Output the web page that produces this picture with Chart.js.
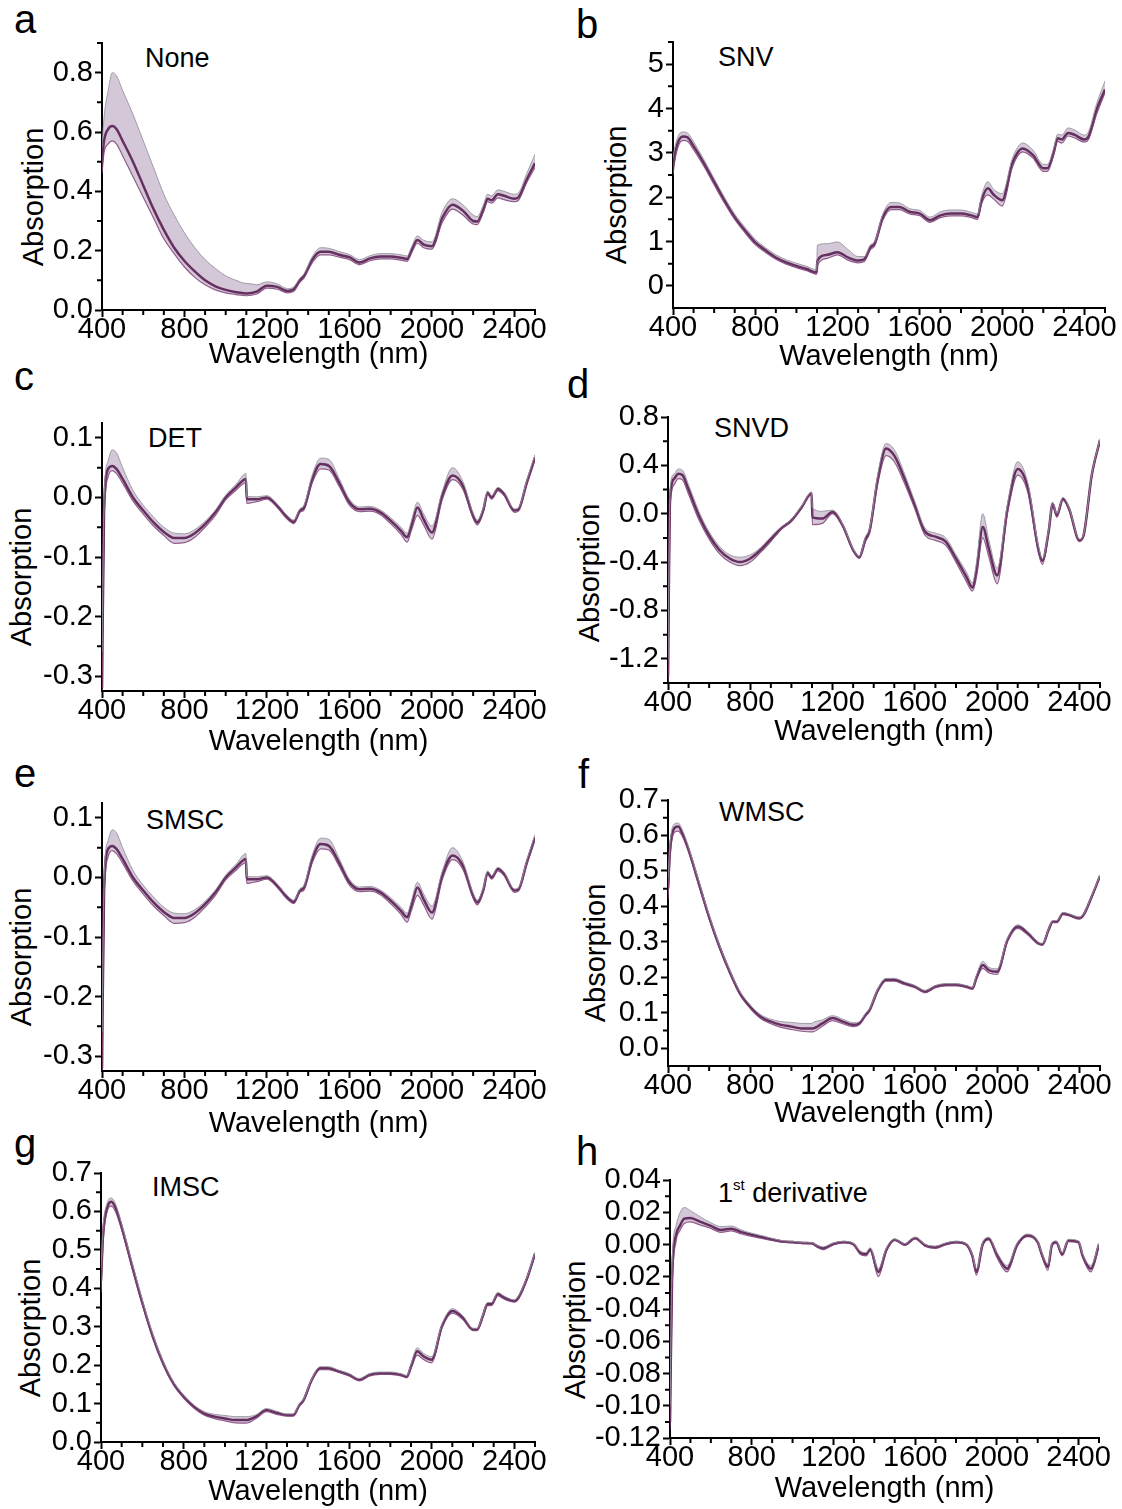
<!DOCTYPE html>
<html>
<head>
<meta charset="utf-8">
<script src="https://cdn.jsdelivr.net/npm/chart.js@4.4.0/dist/chart.umd.min.js"></script>
<style>
  body { margin: 0; background: #fff; width: 1122px; height: 1509px; position: relative; overflow: hidden;
         font-family: 'Liberation Sans', Arial, sans-serif; color: #000; }
  canvas { position: absolute; }
  .letter { position: absolute; font-size: 40px; line-height: 1; }
  .name { position: absolute; font-size: 27px; line-height: 1; white-space: nowrap; }
  .name sup { font-size: 15px; vertical-align: 0; position: relative; top: -12px; }
  .ytitle { position: absolute; font-size: 29px; line-height: 1; white-space: nowrap;
            transform: translate(-50%, -50%) rotate(-90deg); }
</style>
</head>
<body>
<div class="letter" style="left:14px;top:-1px">a</div>
<div class="letter" style="left:576px;top:4px">b</div>
<div class="letter" style="left:14px;top:356px">c</div>
<div class="letter" style="left:567px;top:364px">d</div>
<div class="letter" style="left:14px;top:753px">e</div>
<div class="letter" style="left:578px;top:754px">f</div>
<div class="letter" style="left:14px;top:1123px">g</div>
<div class="letter" style="left:576px;top:1131px">h</div>

<div class="name" style="left:145px;top:45px">None</div>
<div class="name" style="left:718px;top:44px">SNV</div>
<div class="name" style="left:148px;top:425px">DET</div>
<div class="name" style="left:714px;top:415px">SNVD</div>
<div class="name" style="left:146px;top:807px">SMSC</div>
<div class="name" style="left:719px;top:799px">WMSC</div>
<div class="name" style="left:152px;top:1174px">IMSC</div>
<div class="name" style="left:718px;top:1180px">1<sup>st</sup> derivative</div>

<div class="ytitle" style="left:33px;top:197px">Absorption</div>
<div class="ytitle" style="left:616px;top:195px">Absorption</div>
<div class="ytitle" style="left:21px;top:577px">Absorption</div>
<div class="ytitle" style="left:589px;top:573px">Absorption</div>
<div class="ytitle" style="left:21px;top:957px">Absorption</div>
<div class="ytitle" style="left:595px;top:953px">Absorption</div>
<div class="ytitle" style="left:30px;top:1328px">Absorption</div>
<div class="ytitle" style="left:575px;top:1330px">Absorption</div>

<canvas id="cv-a"></canvas>
<canvas id="cv-b"></canvas>
<canvas id="cv-c"></canvas>
<canvas id="cv-d"></canvas>
<canvas id="cv-e"></canvas>
<canvas id="cv-f"></canvas>
<canvas id="cv-g"></canvas>
<canvas id="cv-h"></canvas>

<script>
// wavelength grid (nm) shared by all panels
const wavelengths = [400, 410, 430, 450, 470, 500, 550, 600, 650, 700, 750, 800, 850, 900, 950,
  1000, 1050, 1098, 1102, 1150, 1200, 1250, 1300, 1330, 1360, 1380, 1420, 1460, 1500, 1550,
  1600, 1650, 1700, 1750, 1800, 1850, 1880, 1900, 1930, 1960, 2000, 2050, 2100, 2150, 2200,
  2220, 2250, 2270, 2290, 2320, 2350, 2400, 2420, 2460, 2500];

const xTickLabels = [400, 800, 1200, 1600, 2000, 2400];
const xMinorTicks = [500, 600, 700, 900, 1000, 1100, 1300, 1400, 1500, 1700, 1800, 1900, 2100, 2200, 2300, 2500];

// a - None
const noneHi = [0.55,0.65,0.74,0.80,0.79,0.74,0.66,0.57,0.48,0.39,0.32,0.26,0.21,0.17,0.14,0.115,0.10,0.09,0.09,0.085,0.095,0.088,0.072,0.078,0.108,0.122,0.18,0.21,0.208,0.197,0.187,0.17,0.183,0.19,0.19,0.186,0.182,0.21,0.25,0.235,0.23,0.33,0.375,0.355,0.32,0.315,0.355,0.39,0.385,0.405,0.40,0.39,0.395,0.46,0.525];
const noneMid = [0.50,0.57,0.61,0.62,0.61,0.57,0.50,0.42,0.34,0.27,0.21,0.165,0.13,0.10,0.08,0.068,0.06,0.056,0.056,0.062,0.082,0.078,0.064,0.07,0.10,0.115,0.17,0.196,0.196,0.186,0.178,0.16,0.174,0.18,0.18,0.176,0.172,0.2,0.236,0.22,0.215,0.31,0.355,0.335,0.30,0.298,0.34,0.375,0.37,0.39,0.385,0.375,0.38,0.44,0.495];
const noneLo = [0.46,0.53,0.56,0.57,0.56,0.52,0.45,0.38,0.31,0.24,0.19,0.145,0.11,0.085,0.068,0.058,0.052,0.048,0.048,0.054,0.074,0.07,0.058,0.063,0.094,0.108,0.16,0.186,0.186,0.178,0.17,0.153,0.166,0.172,0.172,0.168,0.164,0.19,0.225,0.21,0.205,0.295,0.34,0.32,0.29,0.288,0.33,0.365,0.36,0.378,0.372,0.365,0.37,0.43,0.48];
const noneTicks = [0, 0.2, 0.4, 0.6, 0.8];
const noneMinor = [0.1, 0.3, 0.5, 0.7, 0.9];

// b - SNV
const snvHi = [2.9,3.15,3.42,3.47,3.45,3.25,2.85,2.42,2.0,1.62,1.32,1.05,0.86,0.7,0.59,0.51,0.44,0.36,0.92,0.95,0.99,0.82,0.66,0.66,0.93,1.0,1.62,1.88,1.87,1.74,1.7,1.55,1.67,1.71,1.71,1.66,1.62,2.03,2.35,2.17,2.08,2.88,3.22,3.06,2.74,2.74,3.1,3.42,3.4,3.56,3.52,3.4,3.48,4.12,4.62];
const snvMid = [2.7,3.0,3.3,3.37,3.35,3.15,2.77,2.35,1.93,1.55,1.25,0.98,0.80,0.64,0.53,0.45,0.38,0.30,0.57,0.70,0.76,0.64,0.57,0.60,0.87,0.95,1.55,1.78,1.78,1.67,1.63,1.48,1.59,1.63,1.63,1.59,1.55,1.93,2.2,2.05,1.93,2.77,3.1,2.95,2.65,2.65,3.0,3.33,3.3,3.45,3.41,3.3,3.37,3.98,4.43];
const snvLo = [2.5,2.85,3.2,3.28,3.26,3.07,2.7,2.28,1.87,1.5,1.2,0.93,0.75,0.6,0.49,0.41,0.34,0.26,0.45,0.62,0.7,0.58,0.52,0.55,0.82,0.9,1.48,1.72,1.72,1.62,1.58,1.43,1.54,1.58,1.58,1.54,1.5,1.85,2.05,1.95,1.8,2.68,3.02,2.88,2.58,2.58,2.94,3.26,3.22,3.38,3.34,3.24,3.3,3.88,4.35];
const snvTicks = [0, 1, 2, 3, 4, 5];
const snvMinor = [0.5, 1.5, 2.5, 3.5, 4.5, 5.5];

// c - DET
const detHi = [-0.26,0.0,0.062,0.08,0.075,0.05,0.012,-0.013,-0.033,-0.05,-0.06,-0.061,-0.054,-0.04,-0.021,0.004,0.022,0.04,0.002,0.001,0.003,-0.011,-0.031,-0.038,-0.019,-0.013,0.038,0.066,0.064,0.032,-0.003,-0.016,-0.015,-0.021,-0.034,-0.05,-0.06,-0.04,-0.008,-0.028,-0.048,0.01,0.05,0.027,-0.026,-0.038,-0.016,0.011,0.003,0.017,0.009,-0.019,-0.017,0.029,0.072];
const detMid = [-0.32,-0.02,0.048,0.053,0.048,0.031,0.0,-0.022,-0.042,-0.058,-0.068,-0.068,-0.06,-0.045,-0.025,0.0,0.017,0.031,-0.003,-0.003,0.0,-0.014,-0.034,-0.041,-0.022,-0.017,0.031,0.056,0.053,0.025,-0.008,-0.02,-0.019,-0.025,-0.039,-0.056,-0.067,-0.048,-0.017,-0.037,-0.059,0.003,0.037,0.02,-0.031,-0.042,-0.02,0.008,0.0,0.014,0.006,-0.022,-0.02,0.025,0.067];
const detLo = [-0.33,-0.04,0.035,0.045,0.04,0.024,-0.006,-0.028,-0.048,-0.064,-0.077,-0.076,-0.067,-0.05,-0.03,-0.004,0.012,0.025,-0.01,-0.007,-0.003,-0.017,-0.037,-0.044,-0.025,-0.021,0.025,0.048,0.046,0.019,-0.013,-0.024,-0.023,-0.029,-0.044,-0.062,-0.075,-0.056,-0.03,-0.046,-0.07,-0.004,0.03,0.014,-0.035,-0.046,-0.024,0.005,-0.003,0.011,0.003,-0.025,-0.023,0.021,0.063];
const detTicks = [-0.3, -0.2, -0.1, 0, 0.1];
const detMinor = [-0.25, -0.15, -0.05, 0.05];

// d - SNVD
const snvdHi = [-1.2,0.2,0.33,0.37,0.36,0.24,0.02,-0.15,-0.27,-0.34,-0.36,-0.34,-0.28,-0.19,-0.11,-0.045,0.065,0.18,0.05,0.02,0.03,-0.09,-0.29,-0.35,-0.19,-0.12,0.33,0.58,0.53,0.33,0.1,-0.12,-0.16,-0.2,-0.34,-0.48,-0.57,-0.4,0.0,-0.22,-0.45,0.08,0.43,0.25,-0.26,-0.37,-0.13,0.095,0.0,0.135,0.05,-0.21,-0.17,0.33,0.62];
const snvdMid = [-1.35,0.12,0.29,0.33,0.32,0.2,-0.014,-0.18,-0.30,-0.37,-0.40,-0.37,-0.30,-0.21,-0.12,-0.055,0.055,0.17,-0.03,-0.04,0.014,-0.10,-0.30,-0.36,-0.21,-0.14,0.29,0.54,0.48,0.29,0.07,-0.15,-0.19,-0.23,-0.37,-0.52,-0.61,-0.46,-0.11,-0.29,-0.51,0.04,0.37,0.21,-0.29,-0.39,-0.15,0.083,-0.014,0.124,0.04,-0.22,-0.18,0.32,0.61];
const snvdLo = [-1.39,0.05,0.24,0.29,0.28,0.16,-0.05,-0.21,-0.33,-0.4,-0.43,-0.4,-0.32,-0.23,-0.13,-0.065,0.045,0.16,-0.09,-0.08,0.0,-0.11,-0.31,-0.37,-0.23,-0.16,0.25,0.48,0.43,0.25,0.04,-0.18,-0.22,-0.26,-0.4,-0.56,-0.64,-0.52,-0.2,-0.36,-0.58,0.0,0.32,0.17,-0.32,-0.42,-0.17,0.07,-0.03,0.11,0.03,-0.23,-0.19,0.31,0.6];
const snvdTicks = [-1.2, -0.8, -0.4, 0, 0.4, 0.8];
const snvdMinor = [-1.4, -1.0, -0.6, -0.2, 0.2, 0.6];

// e - SMSC
const smscHi = [-0.26,0.0,0.062,0.08,0.075,0.05,0.012,-0.013,-0.033,-0.05,-0.06,-0.061,-0.054,-0.04,-0.021,0.004,0.022,0.04,0.002,0.001,0.003,-0.011,-0.031,-0.038,-0.019,-0.013,0.038,0.066,0.064,0.032,-0.003,-0.016,-0.015,-0.021,-0.034,-0.05,-0.06,-0.04,-0.008,-0.028,-0.048,0.01,0.05,0.027,-0.026,-0.038,-0.016,0.011,0.003,0.017,0.009,-0.019,-0.017,0.029,0.072];
const smscMid = [-0.32,-0.02,0.048,0.053,0.048,0.031,0.0,-0.022,-0.042,-0.058,-0.068,-0.068,-0.06,-0.045,-0.025,0.0,0.017,0.031,-0.003,-0.003,0.0,-0.014,-0.034,-0.041,-0.022,-0.017,0.031,0.056,0.053,0.025,-0.008,-0.02,-0.019,-0.025,-0.039,-0.056,-0.067,-0.048,-0.017,-0.037,-0.059,0.003,0.037,0.02,-0.031,-0.042,-0.02,0.008,0.0,0.014,0.006,-0.022,-0.02,0.025,0.067];
const smscLo = [-0.33,-0.04,0.035,0.045,0.04,0.024,-0.006,-0.028,-0.048,-0.064,-0.077,-0.076,-0.067,-0.05,-0.03,-0.004,0.012,0.025,-0.01,-0.007,-0.003,-0.017,-0.037,-0.044,-0.025,-0.021,0.025,0.048,0.046,0.019,-0.013,-0.024,-0.023,-0.029,-0.044,-0.062,-0.075,-0.056,-0.03,-0.046,-0.07,-0.004,0.03,0.014,-0.035,-0.046,-0.024,0.005,-0.003,0.011,0.003,-0.025,-0.023,0.021,0.063];
const smscTicks = [-0.3, -0.2, -0.1, 0, 0.1];
const smscMinor = [-0.25, -0.15, -0.05, 0.05];

// f - WMSC
const wmscHi = [0.48,0.58,0.632,0.635,0.615,0.567,0.472,0.376,0.292,0.221,0.16,0.122,0.095,0.082,0.075,0.073,0.07,0.07,0.072,0.08,0.092,0.082,0.072,0.075,0.098,0.112,0.168,0.197,0.197,0.187,0.177,0.163,0.177,0.182,0.182,0.177,0.172,0.207,0.245,0.228,0.224,0.31,0.348,0.329,0.299,0.296,0.337,0.36,0.36,0.383,0.379,0.37,0.379,0.431,0.489];
const wmscMid = [0.45,0.56,0.62,0.625,0.606,0.56,0.465,0.37,0.287,0.216,0.155,0.117,0.089,0.075,0.066,0.061,0.056,0.056,0.056,0.07,0.085,0.075,0.066,0.07,0.094,0.108,0.164,0.193,0.193,0.183,0.174,0.16,0.174,0.179,0.179,0.174,0.169,0.20,0.235,0.22,0.216,0.305,0.343,0.324,0.296,0.293,0.334,0.357,0.357,0.38,0.376,0.367,0.376,0.428,0.486];
const wmscLo = [0.42,0.54,0.608,0.612,0.597,0.553,0.458,0.364,0.282,0.211,0.15,0.112,0.084,0.069,0.059,0.053,0.048,0.046,0.046,0.062,0.078,0.069,0.061,0.066,0.09,0.104,0.16,0.189,0.189,0.179,0.171,0.157,0.171,0.176,0.176,0.171,0.166,0.194,0.225,0.212,0.208,0.3,0.338,0.319,0.293,0.29,0.331,0.354,0.354,0.377,0.373,0.364,0.373,0.425,0.483];
const wmscTicks = [0, 0.1, 0.2, 0.3, 0.4, 0.5, 0.6, 0.7];
const wmscMinor = [0.05, 0.15, 0.25, 0.35, 0.45, 0.55, 0.65];

// g - IMSC
const imscHi = [0.45,0.56,0.622,0.635,0.62,0.568,0.468,0.37,0.282,0.211,0.157,0.122,0.096,0.079,0.072,0.069,0.066,0.066,0.066,0.071,0.087,0.08,0.073,0.073,0.099,0.112,0.165,0.196,0.196,0.187,0.178,0.165,0.178,0.182,0.182,0.178,0.173,0.203,0.245,0.231,0.222,0.307,0.347,0.329,0.296,0.296,0.336,0.363,0.363,0.389,0.38,0.37,0.38,0.428,0.494];
const imscMid = [0.42,0.54,0.61,0.625,0.61,0.56,0.46,0.363,0.276,0.206,0.153,0.118,0.092,0.074,0.066,0.061,0.057,0.057,0.057,0.066,0.083,0.076,0.07,0.07,0.096,0.109,0.162,0.192,0.192,0.184,0.175,0.162,0.175,0.179,0.179,0.175,0.17,0.197,0.236,0.223,0.214,0.302,0.341,0.324,0.293,0.293,0.332,0.359,0.359,0.385,0.376,0.367,0.376,0.424,0.49];
const imscLo = [0.39,0.52,0.6,0.614,0.6,0.552,0.452,0.356,0.27,0.201,0.149,0.114,0.088,0.07,0.061,0.055,0.05,0.049,0.049,0.061,0.079,0.072,0.067,0.067,0.093,0.106,0.159,0.188,0.188,0.181,0.172,0.159,0.172,0.176,0.176,0.172,0.167,0.191,0.226,0.215,0.206,0.297,0.335,0.319,0.29,0.29,0.328,0.355,0.355,0.381,0.372,0.364,0.372,0.42,0.486];
const imscTicks = [0, 0.1, 0.2, 0.3, 0.4, 0.5, 0.6, 0.7];
const imscMinor = [0.05, 0.15, 0.25, 0.35, 0.45, 0.55, 0.65];

// h - 1st derivative
const derivHi = [-0.1,-0.012,0.012,0.02,0.023,0.021,0.017,0.0135,0.011,0.0115,0.009,0.007,0.0055,0.0038,0.0024,0.002,0.0014,0.0012,0.0008,-0.0015,0.001,0.002,0.0005,-0.004,-0.005,-0.002,-0.015,-0.002,0.0035,0.0005,0.0045,0.0,-0.001,0.001,0.002,0.0005,-0.006,-0.015,0.001,0.0045,-0.005,-0.013,0.001,0.0065,0.0022,-0.005,-0.012,0.001,0.0022,-0.005,0.0032,0.0022,-0.006,-0.013,0.001];
const derivMid = [-0.11,-0.021,0.006,0.012,0.016,0.0165,0.014,0.0115,0.009,0.0098,0.0077,0.006,0.0046,0.0031,0.0019,0.0015,0.001,0.0008,0.0004,-0.0023,0.0004,0.0015,0.0,-0.005,-0.006,-0.003,-0.017,-0.003,0.003,0.0,0.004,-0.0006,-0.0017,0.0004,0.0015,0.0,-0.007,-0.017,0.0,0.0035,-0.006,-0.015,0.0,0.0056,0.0015,-0.006,-0.014,0.0,0.0015,-0.006,0.0025,0.0015,-0.007,-0.015,0.0];
const derivLo = [-0.115,-0.03,0.002,0.009,0.013,0.014,0.012,0.01,0.0075,0.0085,0.0065,0.005,0.0038,0.0025,0.0014,0.001,0.0006,0.0004,0.0,-0.0032,-0.0002,0.001,-0.0005,-0.006,-0.007,-0.004,-0.02,-0.004,0.0025,-0.0005,0.0035,-0.0012,-0.0024,-0.0002,0.001,-0.0005,-0.008,-0.019,-0.001,0.0028,-0.008,-0.017,-0.001,0.0048,0.0008,-0.007,-0.016,-0.001,0.0008,-0.007,0.0018,0.0008,-0.008,-0.017,-0.001];
const derivTicks = [-0.12, -0.10, -0.08, -0.06, -0.04, -0.02, 0, 0.02, 0.04];
const derivMinor = [-0.11, -0.09, -0.07, -0.05, -0.03, -0.01, 0.01, 0.03];

const FONT = "'Liberation Sans', Arial, sans-serif";

// canvas box [left, top, width, height], axes [yAxisX, top, xAxisY, right]
const panels = [
  { id: 'a', box: [0, 0, 560, 372],      axes: [102, 43, 310, 535],     y: [0, 0.9],        dec: 1, ticks: noneTicks,  minor: noneMinor,  s: [noneHi, noneMid, noneLo] },
  { id: 'b', box: [560, 0, 562, 374],    axes: [673, 42, 308, 1105],    y: [-0.5, 5.5],     dec: 0, ticks: snvTicks,   minor: snvMinor,   s: [snvHi, snvMid, snvLo] },
  { id: 'c', box: [0, 380, 560, 379],    axes: [102, 423, 691, 535],    y: [-0.325, 0.125], dec: 1, ticks: detTicks,   minor: detMinor,   s: [detHi, detMid, detLo] },
  { id: 'd', box: [560, 380, 562, 369],  axes: [668, 417, 683, 1100],   y: [-1.4, 0.8],     dec: 1, ticks: snvdTicks,  minor: snvdMinor,  s: [snvdHi, snvdMid, snvdLo] },
  { id: 'e', box: [0, 760, 560, 381],    axes: [102, 803, 1071, 535],   y: [-0.325, 0.125], dec: 1, ticks: smscTicks,  minor: smscMinor,  s: [smscHi, smscMid, smscLo] },
  { id: 'f', box: [560, 760, 562, 371],  axes: [668, 800, 1066, 1100],  y: [-0.05, 0.7],    dec: 1, ticks: wmscTicks,  minor: wmscMinor,  s: [wmscHi, wmscMid, wmscLo] },
  { id: 'g', box: [0, 1140, 560, 369],   axes: [101, 1173, 1442, 535],  y: [0, 0.7],        dec: 1, ticks: imscTicks,  minor: imscMinor,  s: [imscHi, imscMid, imscLo] },
  { id: 'h', box: [560, 1140, 562, 366], axes: [670, 1180, 1438, 1099], y: [-0.12, 0.04],   dec: 2, ticks: derivTicks, minor: derivMinor, s: [derivHi, derivMid, derivLo] }
];

// short outward minor ticks along both axes
const minorTicksPlugin = {
  id: 'minorTicks',
  afterDraw(chart, args, opts) {
    const { ctx, chartArea } = chart;
    const xs = chart.scales.x, ys = chart.scales.y;
    ctx.save();
    ctx.strokeStyle = '#000';
    ctx.lineWidth = 2;
    ctx.beginPath();
    opts.xv.forEach(v => {
      const px = xs.getPixelForValue(v);
      ctx.moveTo(px, chartArea.bottom);
      ctx.lineTo(px, chartArea.bottom + 5);
    });
    opts.yv.forEach(v => {
      const py = ys.getPixelForValue(v);
      ctx.moveTo(chartArea.left, py);
      ctx.lineTo(chartArea.left - 5, py);
    });
    ctx.stroke();
    ctx.restore();
  }
};

const axisGrid = { drawOnChartArea: false, drawTicks: true, tickLength: 7, tickWidth: 2, tickColor: '#000' };
const axisBorder = { display: true, color: '#000', width: 2 };

panels.forEach(p => {
  const [cl, ct, cw, ch] = p.box;
  const [ax, aTop, aBot, aRight] = p.axes;
  const canvas = document.getElementById('cv-' + p.id);
  canvas.width = cw;
  canvas.height = ch;
  canvas.style.left = cl + 'px';
  canvas.style.top = ct + 'px';

  const pts = arr => wavelengths.map((w, i) => ({ x: w, y: arr[i] }));
  const [hi, mid, lo] = p.s;

  new Chart(canvas, {
    type: 'line',
    data: {
      datasets: [
        { data: pts(hi), borderColor: 'rgba(150,150,160,0.9)', borderWidth: 1, fill: '+1', backgroundColor: 'rgba(120,80,130,0.32)' },
        { data: pts(lo), borderColor: 'rgba(130,65,120,0.85)', borderWidth: 1.2, fill: false },
        { data: pts(mid), borderColor: '#5c2150', borderWidth: 2.5, fill: false }
      ]
    },
    options: {
      responsive: false,
      animation: false,
      events: [],
      layout: { padding: { top: aTop - ct, right: cl + cw - aRight, left: 0, bottom: 0 } },
      elements: { point: { radius: 0 }, line: { cubicInterpolationMode: 'monotone' } },
      plugins: {
        legend: { display: false },
        tooltip: { enabled: false },
        minorTicks: { xv: xMinorTicks, yv: p.minor }
      },
      scales: {
        x: {
          type: 'linear', min: 400, max: 2500,
          afterFit: s => { s.height = ct + ch - aBot; },
          afterBuildTicks: s => { s.ticks = xTickLabels.map(v => ({ value: v })); },
          ticks: { color: '#000', padding: -2, autoSkip: false, maxRotation: 0,
                   font: { family: FONT, size: 29, lineHeight: 1 }, callback: v => String(v) },
          grid: axisGrid,
          border: axisBorder,
          title: { display: true, text: 'Wavelength (nm)', color: '#000',
                   font: { family: FONT, size: 29 }, padding: { top: 0, bottom: 0 } }
        },
        y: {
          min: p.y[0], max: p.y[1],
          afterFit: s => { s.width = ax - cl; },
          afterBuildTicks: s => { s.ticks = p.ticks.map(v => ({ value: v })); },
          ticks: { color: '#000', padding: 2, autoSkip: false,
                   font: { family: FONT, size: 29, lineHeight: 1 },
                   callback: v => Number(v).toFixed(p.dec) },
          grid: axisGrid,
          border: axisBorder
        }
      }
    },
    plugins: [minorTicksPlugin]
  });
});
</script>
</body>
</html>
